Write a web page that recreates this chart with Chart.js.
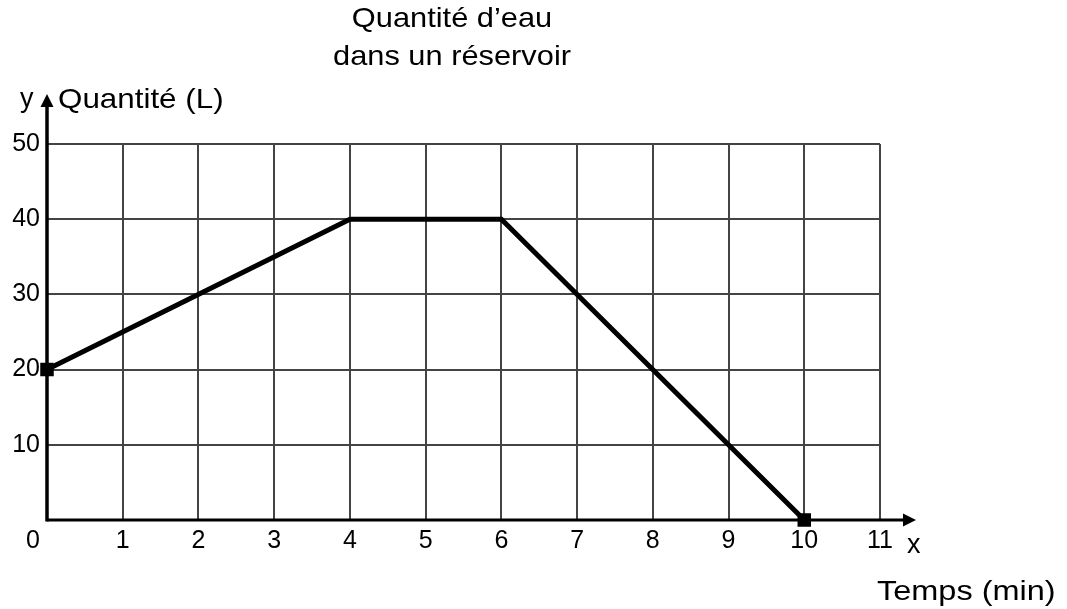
<!DOCTYPE html>
<html>
<head>
    <title>Quantité d'eau dans un réservoir</title>
    <meta charset="UTF-8">
    <script src="https://cdn.jsdelivr.net/npm/chart.js"></script>
    <style>
        html, body { margin: 0; padding: 0; background: #fff; }
        #wrap { width: 1067px; height: 609px; }
    </style>
</head>
<body>
    <div id="wrap"><canvas id="water_chart"></canvas></div>
    <script>
        // temps (min) et quantité (L)
        var tempsMin = [0, 4, 6, 10];
        var quantiteL = [20, 40, 40, 0];
        var xTicks = [1, 2, 3, 4, 5, 6, 7, 8, 9, 10, 11];
        var yTicks = [10, 20, 30, 40, 50];
        var titre = ['Quantité d\u2019eau', 'dans un réservoir'];

        var police = '"Liberation Sans", Arial, sans-serif';

        // texte un peu élargi horizontalement
        function texteLarge(ctx, txt, x, y, align, sx) {
            ctx.save();
            ctx.translate(x, y);
            ctx.scale(sx, 1);
            ctx.textAlign = align;
            ctx.fillText(txt, 0, 0);
            ctx.restore();
        }

        // axes avec flèches + textes autour du graphique
        var axesPlugin = {
            id: 'axesFleches',
            afterDraw: function(chart) {
                var ctx = chart.ctx;
                var xs = chart.scales.x, ys = chart.scales.y;
                var x0 = xs.getPixelForValue(0), y0 = ys.getPixelForValue(0);
                ctx.save();
                ctx.strokeStyle = '#000';
                ctx.fillStyle = '#000';
                ctx.lineWidth = 3.5;
                // axe y
                ctx.beginPath();
                ctx.moveTo(x0, y0 + 1.5);
                ctx.lineTo(x0, ys.top - 38);
                ctx.stroke();
                ctx.beginPath();
                ctx.moveTo(x0, ys.top - 50);
                ctx.lineTo(x0 - 6.5, ys.top - 37);
                ctx.lineTo(x0 + 6.5, ys.top - 37);
                ctx.closePath();
                ctx.fill();
                // axe x
                ctx.lineWidth = 3;
                ctx.beginPath();
                ctx.moveTo(x0, y0);
                ctx.lineTo(xs.right + 24, y0);
                ctx.stroke();
                ctx.beginPath();
                ctx.moveTo(xs.right + 36, y0);
                ctx.lineTo(xs.right + 23, y0 - 6.5);
                ctx.lineTo(xs.right + 23, y0 + 6.5);
                ctx.closePath();
                ctx.fill();

                ctx.textBaseline = 'middle';
                ctx.font = '28px ' + police;
                texteLarge(ctx, titre[0], 452, 19, 'center', 1.1);
                texteLarge(ctx, titre[1], 452, 57, 'center', 1.1);
                texteLarge(ctx, 'Quantité (L)', 58, 100, 'left', 1.12);
                texteLarge(ctx, 'Temps (min)', 877, 592, 'left', 1.16);
                ctx.font = '27px ' + police;
                texteLarge(ctx, 'y', 20, 100, 'left', 1.0);
                texteLarge(ctx, 'x', 907, 546, 'left', 1.0);
                ctx.font = '25px ' + police;
                texteLarge(ctx, '0', x0 - 14, 541, 'center', 1.0);
                ctx.restore();
            }
        };

        var ctx = document.getElementById('water_chart').getContext('2d');
        var chart = new Chart(ctx, {
            type: 'line',
            data: {
                datasets: [{
                    data: tempsMin.map(function(t, i) { return { x: t, y: quantiteL[i] }; }),
                    borderColor: '#000',
                    backgroundColor: '#000',
                    borderWidth: 5,
                    fill: false,
                    tension: 0,
                    pointStyle: 'rect',
                    pointRadius: [6, 0, 0, 6],
                    pointHoverRadius: [6, 0, 0, 6],
                    clip: false
                }]
            },
            options: {
                responsive: true,
                maintainAspectRatio: false,
                animation: false,
                layout: { padding: { left: 0, right: 187, top: 144, bottom: 0 } },
                plugins: {
                    legend: { display: false },
                    title: { display: false },
                    tooltip: { enabled: false }
                },
                scales: {
                    x: {
                        type: 'linear',
                        min: 0,
                        max: 11,
                        afterFit: function(s) { s.height = 89; },
                        afterBuildTicks: function(s) {
                            s.ticks = [0].concat(xTicks).map(function(v) { return { value: v }; });
                        },
                        grid: { color: '#444', lineWidth: 2, drawTicks: false },
                        border: { display: false },
                        ticks: {
                            padding: 6,
                            color: '#000',
                            font: { size: 25, family: police },
                            maxRotation: 0,
                            callback: function(v) { return v === 0 ? '' : String(v); }
                        }
                    },
                    y: {
                        min: 0,
                        max: 50,
                        afterFit: function(s) { s.width = 47; },
                        afterBuildTicks: function(s) {
                            s.ticks = [0].concat(yTicks).map(function(v) { return { value: v }; });
                        },
                        grid: { color: '#444', lineWidth: 2, drawTicks: false },
                        border: { display: false },
                        ticks: {
                            padding: 7,
                            color: '#000',
                            font: { size: 25, family: police },
                            callback: function(v) { return v === 0 ? '' : String(v); }
                        }
                    }
                }
            },
            plugins: [axesPlugin]
        });
    </script>
</body>
</html>
